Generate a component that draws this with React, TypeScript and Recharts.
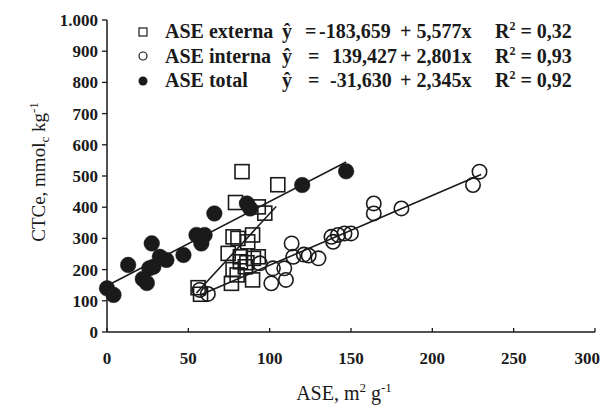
import React from 'react';
import { ScatterChart, Scatter, XAxis, YAxis, ReferenceLine } from 'recharts';

const externa = [
  { x: 83, y: 514 }, { x: 105, y: 472 }, { x: 79, y: 415 }, { x: 93, y: 401 },
  { x: 97, y: 381 }, { x: 77.5, y: 305 }, { x: 80.5, y: 300 }, { x: 89.5, y: 311 },
  { x: 86.5, y: 289 }, { x: 74.5, y: 252 }, { x: 82, y: 241 }, { x: 90, y: 236 },
  { x: 93, y: 241 }, { x: 77.5, y: 200 }, { x: 85, y: 209 }, { x: 76.5, y: 156 },
  { x: 89.5, y: 167 }, { x: 56, y: 142 }, { x: 57.5, y: 121 }, { x: 82, y: 225 },
  { x: 86, y: 222 }, { x: 80, y: 183 },
];
const interna = [
  { x: 57, y: 135 }, { x: 62, y: 122 }, { x: 94, y: 220 }, { x: 101, y: 156 },
  { x: 102, y: 204 }, { x: 109, y: 204 }, { x: 110, y: 167 }, { x: 113.5, y: 284 },
  { x: 114.5, y: 241 }, { x: 121, y: 248 }, { x: 124, y: 245 }, { x: 130, y: 236 },
  { x: 138, y: 305 }, { x: 139, y: 289 }, { x: 142, y: 311 }, { x: 146, y: 316 },
  { x: 150, y: 316 }, { x: 164, y: 412 }, { x: 164, y: 380 }, { x: 181, y: 396 },
  { x: 225, y: 471 }, { x: 229, y: 514 },
];
const total = [
  { x: 0, y: 140 }, { x: 4, y: 119 }, { x: 13, y: 215 }, { x: 27.5, y: 284 },
  { x: 22, y: 170 }, { x: 24.5, y: 157 }, { x: 26, y: 204 }, { x: 28.5, y: 209 },
  { x: 32.5, y: 241 }, { x: 36.5, y: 231 }, { x: 47, y: 247 }, { x: 55, y: 311 },
  { x: 60, y: 311 }, { x: 58, y: 284 }, { x: 66, y: 380 }, { x: 86, y: 412 },
  { x: 88, y: 396 }, { x: 120, y: 471 }, { x: 147, y: 515 },
];

const lineExterna = [{ x: 55, y: 125 }, { x: 104, y: 402 }];
const lineInterna = [{ x: 58, y: 120 }, { x: 230, y: 505 }];
const lineTotal = [{ x: 0, y: 148 }, { x: 147, y: 545 }];

const xTicks = [0, 50, 100, 150, 200, 250, 300];
const yTicks = [0, 100, 200, 300, 400, 500, 600, 700, 800, 900, 1000];
const yTickLabels = ['0', '100', '200', '300', '400', '500', '600', '700', '800', '900', '1.000'];

const legendNames = ['ASE externa', 'ASE interna', 'ASE total'];
const legendIntercepts = ['-183,659', '139,427', '-31,630'];
const legendSlopes = ['+ 5,577x', '+ 2,801x', '+ 2,345x'];
const legendR2 = ['0,32', '0,93', '0,92'];

const FONT = "'Liberation Serif', 'Times New Roman', serif";
const INK = '#1a1a1a';

const W = 600;
const H = 400;
const margin = { top: 12, right: 13, left: 39, bottom: 36 };
const Y_AXIS_W = 60;
const X_AXIS_H = 40;
const X_TICK_GAP = 20;

const SquareShape = (p: any) => (
  <rect x={p.cx - 7} y={p.cy - 7} width={14} height={14} fill="none" stroke={INK} strokeWidth={1.6} />
);
const OpenCircle = (p: any) => (
  <circle cx={p.cx} cy={p.cy} r={7.2} fill="none" stroke={INK} strokeWidth={1.6} />
);
const FilledCircle = (p: any) => (
  <circle cx={p.cx} cy={p.cy} r={7.8} fill={INK} stroke={INK} strokeWidth={0.5} />
);

const XTick = (p: any) => {
  const isLast = p.payload.value === xTicks[xTicks.length - 1];
  return (
    <g>
      <line x1={p.x} x2={p.x} y1={p.y - X_TICK_GAP} y2={p.y - X_TICK_GAP - 4} stroke={INK} strokeWidth={1.3} />
      <text
        x={isLast ? p.x + 5 : p.x}
        y={p.y}
        dy="0.71em"
        textAnchor={isLast ? 'end' : 'middle'}
        fontFamily={FONT}
        fontSize={17}
        fontWeight="bold"
        fill={INK}
      >
        {p.payload.value}
      </text>
    </g>
  );
};

const YTick = (p: any) => {
  const idx = yTicks.indexOf(p.payload.value);
  return (
    <text x={p.x} y={p.y} dy="0.355em" textAnchor="end" fontFamily={FONT} fontSize={17} fontWeight="bold" fill={INK}>
      {idx >= 0 ? yTickLabels[idx] : p.payload.value}
    </text>
  );
};

export default function App() {
  const rowBase = [30, 55, 79];
  const eqX = [297, 300, 300];
  const interceptX = [311, 324, 322];
  return (
    <div style={{ position: 'relative', width: W, height: H }}>
      <style>{`.recharts-surface { overflow: visible; } html { overflow: hidden; }`}</style>
      <ScatterChart width={W} height={H} margin={margin}>
        <XAxis
          type="number"
          dataKey="x"
          domain={[0, 300]}
          ticks={xTicks}
          interval={0}
          height={X_AXIS_H}
          tickSize={0}
          tickMargin={X_TICK_GAP}
          tick={<XTick />}
          axisLine={{ stroke: INK, strokeWidth: 1.5 }}
          tickLine={false}
        />
        <YAxis
          type="number"
          dataKey="y"
          domain={[0, 1000]}
          ticks={yTicks}
          interval={0}
          width={Y_AXIS_W}
          tickSize={5}
          tickMargin={4}
          tick={<YTick />}
          axisLine={{ stroke: INK, strokeWidth: 1.5 }}
          tickLine={{ stroke: INK, strokeWidth: 1.3 }}
        />
        <ReferenceLine segment={lineTotal} stroke={INK} strokeWidth={1.6} ifOverflow="visible" />
        <ReferenceLine segment={lineExterna} stroke={INK} strokeWidth={1.6} ifOverflow="visible" />
        <ReferenceLine segment={lineInterna} stroke={INK} strokeWidth={1.6} ifOverflow="visible" />
        <Scatter name="ASE externa" data={externa} shape={SquareShape} isAnimationActive={false} />
        <Scatter name="ASE interna" data={interna} shape={OpenCircle} isAnimationActive={false} />
        <Scatter name="ASE total" data={total} shape={FilledCircle} isAnimationActive={false} />
      </ScatterChart>
      <svg width={W} height={H} style={{ position: 'absolute', left: 0, top: 0, pointerEvents: 'none', overflow: 'visible' }}>
        <g fontFamily={FONT} fill={INK}>
          <g transform="translate(30,164) rotate(-90)">
            <text x={0} y={7} textAnchor="middle" fontSize={19}>
              CTCe, mmol
              <tspan fontSize={13} dy={4}>c</tspan>
              <tspan dy={-4}> kg</tspan>
              <tspan fontSize={13} dy={-7}>-1</tspan>
            </text>
          </g>
          <text x={336} y={392} textAnchor="middle" fontSize={20}>
            ASE, m<tspan fontSize={13} dy={-8}>2</tspan>
            <tspan dy={8}> g</tspan>
            <tspan fontSize={13} dy={-8}>-1</tspan>
          </text>
          <rect x={131} y={20} width={8} height={8} fill="none" stroke={INK} strokeWidth={1.2} />
          <circle cx={135} cy={48} r={4} fill="none" stroke={INK} strokeWidth={1.2} />
          <circle cx={135} cy={73} r={4.5} fill={INK} />
          {legendNames.map((n, i) => (
            <g key={n} fontWeight="bold" fontSize={20}>
              <text x={157} y={rowBase[i]}>{n}</text>
              <text x={274} y={rowBase[i]}>ŷ</text>
              <text x={eqX[i]} y={rowBase[i]}>=</text>
              <text x={interceptX[i]} y={rowBase[i]}>{legendIntercepts[i]}</text>
              <text x={392} y={rowBase[i]}>{legendSlopes[i]}</text>
              <text x={487} y={rowBase[i]}>
                R<tspan fontSize={12} dy={-8}>2</tspan>
                <tspan dy={8}> = {legendR2[i]}</tspan>
              </text>
            </g>
          ))}
        </g>
      </svg>
    </div>
  );
}
